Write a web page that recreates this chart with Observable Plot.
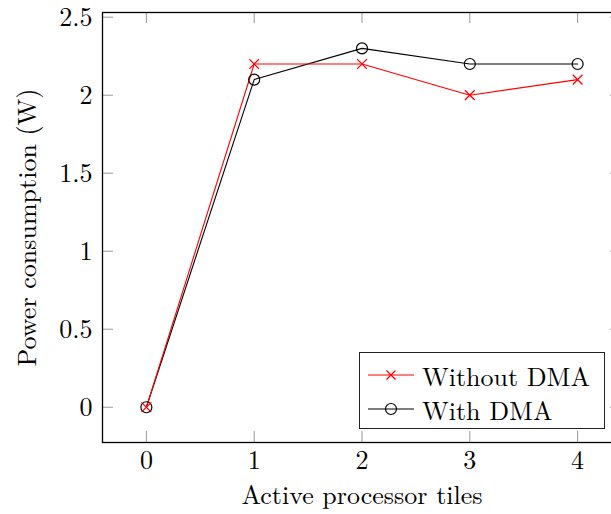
<!DOCTYPE html>
<html>
<head>
<meta charset="utf-8">
<script src="https://cdn.jsdelivr.net/npm/d3@7"></script>
<script src="https://cdn.jsdelivr.net/npm/@observablehq/plot@0.6"></script>
<style>
  html, body { margin: 0; padding: 0; background: #fff; font-family: "Latin Modern Roman", "Liberation Serif", serif; }
  #wrap { position: relative; width: 611px; height: 514px; overflow: hidden; }
  #wrap > svg { max-width: none !important; width: 622px; height: 514px; }
  #wrap svg text { font-family: "Latin Modern Roman", "Liberation Serif", serif !important; }
  #legend { position: absolute; left: 359px; top: 352px; width: 244px; height: 75px; border: 1px solid #222; background: #fff; font-family: "Latin Modern Roman", "Liberation Serif", serif; }
  #legend .row { position: absolute; left: 0; height: 34px; display: flex; align-items: center; font-size: 26px; color: #000; white-space: nowrap; }
  #legend svg { margin-left: 8px; margin-right: 8px; }
</style>
</head>
<body>
<div id="wrap"></div>
<script>
const tiles = [0, 1, 2, 3, 4];
const withoutDMA = [0, 2.2, 2.2, 2.0, 2.1];
const withDMA = [0, 2.1, 2.3, 2.2, 2.2];
const xTicks = [0, 1, 2, 3, 4];
const yTicks = [0, 0.5, 1, 1.5, 2, 2.5];
const seriesNames = ["Without DMA", "With DMA"];
const seriesColors = ["#ff0000", "#000000"];

const rowsWithout = tiles.map((t, i) => ({x: t, y: withoutDMA[i]}));
const rowsWith = tiles.map((t, i) => ({x: t, y: withDMA[i]}));

const W = 622, Hsvg = 514, mT = 12, mB = 72, mL = 102, mR = 1;
const innerH = Hsvg - mT - mB;
const innerW = W - mL - mR;
const tk = 11;
const FONT = '"Latin Modern Roman", "Liberation Serif", serif';

const chart = Plot.plot({
  width: W,
  height: Hsvg,
  marginTop: mT,
  marginBottom: mB,
  marginLeft: mL,
  marginRight: mR,
  style: {fontFamily: FONT, fontSize: "26px", background: "#fff", maxWidth: "none"},
  x: {domain: [-0.407, 4.407], label: null},
  y: {domain: [-0.226, 2.53], label: null},
  marks: [
    Plot.tickX(xTicks, {x: d => d, insetTop: innerH - tk, stroke: "#999", strokeWidth: 1}),
    Plot.tickX(xTicks, {x: d => d, insetBottom: innerH - tk, stroke: "#999", strokeWidth: 1}),
    Plot.tickY(yTicks, {y: d => d, insetRight: innerW - tk, stroke: "#999", strokeWidth: 1}),
    Plot.tickY(yTicks, {y: d => d, insetLeft: innerW - tk, stroke: "#999", strokeWidth: 1}),
    Plot.axisX({ticks: xTicks, tickSize: 0, tickPadding: 8, fontSize: 26, label: null, tickFormat: d => String(d)}),
    Plot.axisY({ticks: yTicks, tickSize: 0, tickPadding: 10, fontSize: 26, label: null, tickFormat: d => String(d)}),
    Plot.frame({stroke: "#000", strokeWidth: 1.3}),
    Plot.line(rowsWith, {x: "x", y: "y", stroke: seriesColors[1], strokeWidth: 1.1}),
    Plot.line(rowsWithout, {x: "x", y: "y", stroke: seriesColors[0], strokeWidth: 1.1}),
    Plot.dot(rowsWith, {x: "x", y: "y", r: 5.5, stroke: seriesColors[1], fill: "none", strokeWidth: 1.2}),
    Plot.dot(rowsWithout, {x: "x", y: "y", symbol: "times", r: 4.5, stroke: seriesColors[0], strokeWidth: 1.3}),
    Plot.text(["Power consumption (W)"], {frameAnchor: "left", dx: -75, rotate: -90, textAnchor: "middle", lineAnchor: "middle", fontSize: 26, fill: "#000"}),
    Plot.text(["Active processor tiles"], {frameAnchor: "bottom", dy: 53, textAnchor: "middle", lineAnchor: "middle", fontSize: 26, fill: "#000"})
  ]
});

const wrap = document.getElementById("wrap");
wrap.appendChild(chart);

const legend = document.createElement("div");
legend.id = "legend";
seriesNames.forEach((name, i) => {
  const row = document.createElement("div");
  row.className = "row";
  row.style.top = (i === 0 ? 5 : 39) + "px";
  const marker = i === 0
    ? `<path d="M18.5,-4.5L27.5,4.5M18.5,4.5L27.5,-4.5" stroke="${seriesColors[i]}" stroke-width="1.3" fill="none"/>`
    : `<circle cx="23" cy="0" r="5.5" stroke="${seriesColors[i]}" stroke-width="1.2" fill="none"/>`;
  row.innerHTML = `<svg width="46" height="14" viewBox="0 -7 46 14"><line x1="0" y1="0" x2="46" y2="0" stroke="${seriesColors[i]}" stroke-width="1.1"/>${marker}</svg><span>${name}</span>`;
  legend.appendChild(row);
});
wrap.appendChild(legend);
</script>
</body>
</html>
